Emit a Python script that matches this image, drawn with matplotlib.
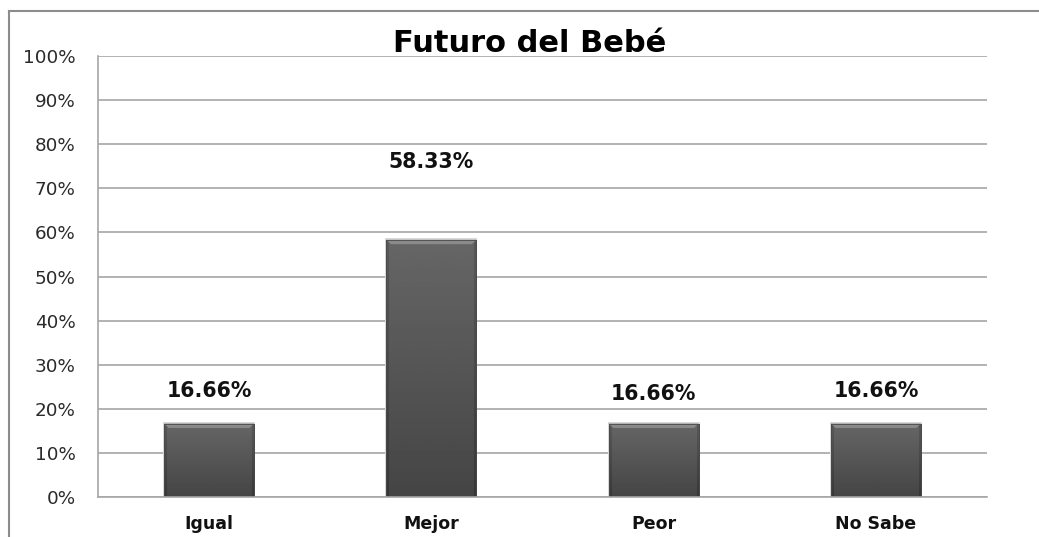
import matplotlib
matplotlib.use("Agg")
import matplotlib.pyplot as plt
import numpy as np
from matplotlib.lines import Line2D
from matplotlib.patches import Polygon, Rectangle

categories = ["Igual", "Mejor", "Peor", "No Sabe"]
values = [16.66, 58.33, 16.66, 16.66]
value_labels = ["16.66%", "58.33%", "16.66%", "16.66%"]
label_heights = [24.0, 76.0, 23.3, 24.0]
yticks = list(range(0, 101, 10))
ytick_labels = [f"{t}%" for t in yticks]
title = "Futuro del Bebé"

W, H = 1039, 537
fig = plt.figure(figsize=(W / 100, H / 100), dpi=100)
fig.patch.set_facecolor("white")

ax = fig.add_axes([98 / W, (H - 497) / H, 889 / W, 441 / H])
ax.set_xlim(-0.5, len(categories) - 0.5)
ax.set_ylim(0, 100)

# gridlines
for t in yticks:
    ax.axhline(t, color="#a6a6a6", lw=1.2, zorder=0)

bars = ax.bar(range(len(categories)), values, width=0.405,
              color="#5a5a5a", edgecolor="none", lw=0, zorder=2)

xg = np.linspace(-1, 1, 90)
for b in bars:
    x0, y0 = b.get_x(), b.get_y()
    w, h = b.get_width(), b.get_height()
    # soft shadow
    ax.add_patch(Rectangle((x0 - w * 0.012, y0), w * 1.024, h + 0.3,
                           facecolor="#d8d8d8", edgecolor="none", zorder=1.9))
    ny = 120
    yy = np.linspace(0, 1, ny)[:, None]
    img = 0.27 + 0.13 * yy + 0.0 * xg[None, :]
    img = img - 0.05 * (np.abs(xg)[None, :] > 0.95)
    im = ax.imshow(img, extent=[x0, x0 + w, y0, y0 + h], origin="lower",
                   cmap="gray", vmin=0, vmax=1, aspect="auto", zorder=2.1,
                   interpolation="bilinear")
    im.set_clip_path(b)
    # top bevel (chamfered)
    bev = 1.0
    cx = w * 0.05
    ax.add_patch(Polygon([[x0, y0 + h], [x0 + w, y0 + h],
                          [x0 + w - cx, y0 + h - bev], [x0 + cx, y0 + h - bev]],
                         closed=True, facecolor="#8a8a8a", edgecolor="none",
                         zorder=2.2))
    ax.add_patch(Rectangle((x0, y0), w, h, fill=False,
                           edgecolor="#4a4a4a", lw=0.6, zorder=2.3))

for i, (lab, hy) in enumerate(zip(value_labels, label_heights)):
    ax.text(i, hy, lab, ha="center", va="center", fontsize=14.8,
            fontweight="bold", family="DejaVu Sans", color="#111111")

ax.set_yticks(yticks)
ax.set_yticklabels(ytick_labels, fontsize=13.2, family="DejaVu Sans", color="#2a2a2a")
ax.set_xticks(range(len(categories)))
ax.set_xticklabels(categories, fontsize=12.5, fontweight="bold",
                   family="DejaVu Sans", color="#111111")
ax.tick_params(axis="both", length=0)
ax.tick_params(axis="y", pad=16)
ax.tick_params(axis="x", pad=13)

for s in ["top", "right"]:
    ax.spines[s].set_visible(False)
ax.spines["left"].set_color("#a6a6a6")
ax.spines["bottom"].set_color("#a6a6a6")
ax.spines["left"].set_linewidth(1.2)
ax.spines["bottom"].set_linewidth(1.2)

fig.text(530 / W, (H - 44) / H, title, ha="center", va="center",
         fontsize=22, fontweight="bold", family="DejaVu Sans", color="black")

# chart-area border (top and left edges visible)
fig.add_artist(Line2D([9 / W, 9 / W], [0, (H - 11) / H], color="#8c8c8c", lw=1.5,
                      transform=fig.transFigure))
fig.add_artist(Line2D([9 / W, 1], [(H - 11) / H, (H - 11) / H], color="#8c8c8c", lw=1.5,
                      transform=fig.transFigure))

fig.savefig("out.png", dpi=100)
